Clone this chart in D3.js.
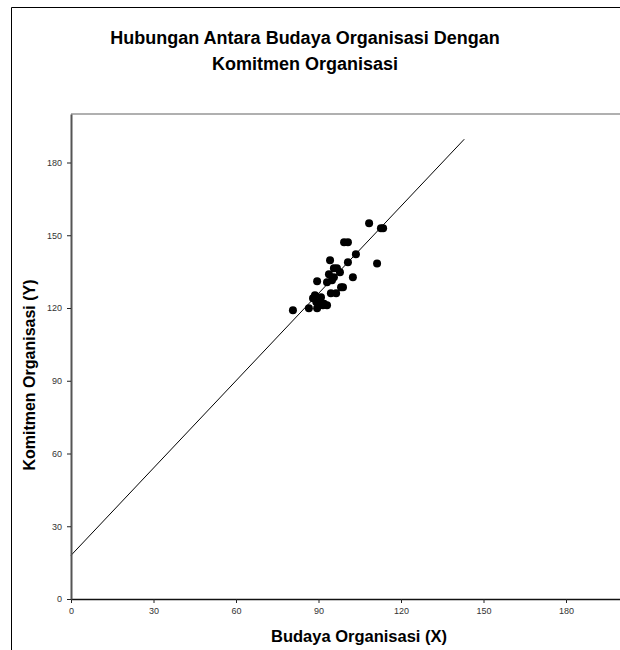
<!DOCTYPE html>
<html>
<head>
<meta charset="utf-8">
<script src="https://cdn.jsdelivr.net/npm/d3@7"></script>
<style>
  body { margin: 0; background: #fff; }
  svg { display: block; font-family: "Liberation Sans", Arial, sans-serif; }
</style>
</head>
<body>
<div id="chart"></div>
<script>
// budaya organisasi (X) scores
const budaya = [80.7, 86.5, 89.5, 89.5, 88.0, 88.7, 90.9, 91.6, 93.1, 90.2,
  94.5, 96.4, 98.2, 98.9, 93.1, 93.8, 94.9, 95.6, 95.6, 96.7,
  97.8, 94.2, 100.7, 102.5, 103.6, 99.3, 100.7, 108.4, 111.3, 112.7,
  113.5, 89.2, 92.0];
// komitmen organisasi (Y) scores
const komitmen = [119.1, 119.9, 119.9, 131.0, 124.0, 125.3, 124.4, 121.1, 121.1, 122.0,
  126.1, 126.1, 128.6, 128.6, 130.6, 133.9, 131.4, 132.7, 136.4, 136.4,
  134.7, 139.7, 138.9, 132.7, 142.2, 147.1, 147.1, 154.9, 138.4, 152.9,
  152.9, 122.5, 121.8];
// regression line end points
const fitX = [0, 143];
const fitY = [18, 189.6];
const xTicks = [0, 30, 60, 90, 120, 150, 180];
const yTicks = [0, 30, 60, 90, 120, 150, 180];

const width = 620, height = 650;
const plot = { left: 71, right: 621, top: 114, bottom: 599 };

const svg = d3.select("#chart").append("svg")
  .attr("width", width)
  .attr("height", height);

// outer frame (only top and left visible)
svg.append("path")
  .attr("d", "M11.5,650V7.5H620")
  .attr("fill", "none")
  .attr("stroke", "#000")
  .attr("stroke-width", 1);

const x = d3.scaleLinear().domain([0, 200]).range([plot.left, plot.right]);
const y = d3.scaleLinear().domain([0, 200]).range([plot.bottom, plot.top]);

// plot area top border
svg.append("line")
  .attr("x1", plot.left).attr("x2", width)
  .attr("y1", plot.top).attr("y2", plot.top)
  .attr("stroke", "#b0b0b0")
  .attr("stroke-width", 2);

// regression line
const line = d3.line().x(d => x(d[0])).y(d => y(d[1]));
svg.append("path")
  .datum(d3.zip(fitX, fitY))
  .attr("d", line)
  .attr("fill", "none")
  .attr("stroke", "#000")
  .attr("stroke-width", 1);

// points
svg.append("g").selectAll("circle")
  .data(d3.zip(budaya, komitmen))
  .enter()
  .append("circle")
  .attr("cx", d => x(d[0]))
  .attr("cy", d => y(d[1]))
  .attr("r", 4)
  .attr("fill", "#000");

// axes
const xAxis = svg.append("g")
  .attr("transform", `translate(0,${plot.bottom})`)
  .call(d3.axisBottom(x).tickValues(xTicks).tickSize(4).tickPadding(5).tickSizeOuter(0));
const yAxis = svg.append("g")
  .attr("transform", `translate(${plot.left},0)`)
  .call(d3.axisLeft(y).tickValues(yTicks).tickSize(4).tickPadding(5).tickSizeOuter(0));

[xAxis, yAxis].forEach(a => {
  a.selectAll(".tick line").attr("stroke", "#222");
  a.selectAll(".tick text")
    .attr("font-family", "Liberation Sans, Arial, sans-serif")
    .attr("font-size", 9)
    .attr("fill", "#333");
});
xAxis.select(".domain").attr("stroke", "#111").attr("stroke-width", 1.5);
yAxis.select(".domain").attr("stroke", "#555").attr("stroke-width", 2);

// title
const title = svg.append("text")
  .attr("text-anchor", "middle")
  .attr("font-size", 18)
  .attr("font-weight", "bold");
title.append("tspan").attr("x", 305).attr("y", 44).text("Hubungan Antara Budaya Organisasi Dengan");
title.append("tspan").attr("x", 305).attr("y", 69.5).text("Komitmen Organisasi");

// axis titles
svg.append("text")
  .attr("x", 359).attr("y", 642)
  .attr("text-anchor", "middle")
  .attr("font-size", 16.5)
  .attr("font-weight", "bold")
  .text("Budaya Organisasi (X)");

svg.append("text")
  .attr("transform", "translate(35,375) rotate(-90)")
  .attr("text-anchor", "middle")
  .attr("font-size", 16)
  .attr("font-weight", "bold")
  .text("Komitmen Organisasi (Y)");
</script>
</body>
</html>
